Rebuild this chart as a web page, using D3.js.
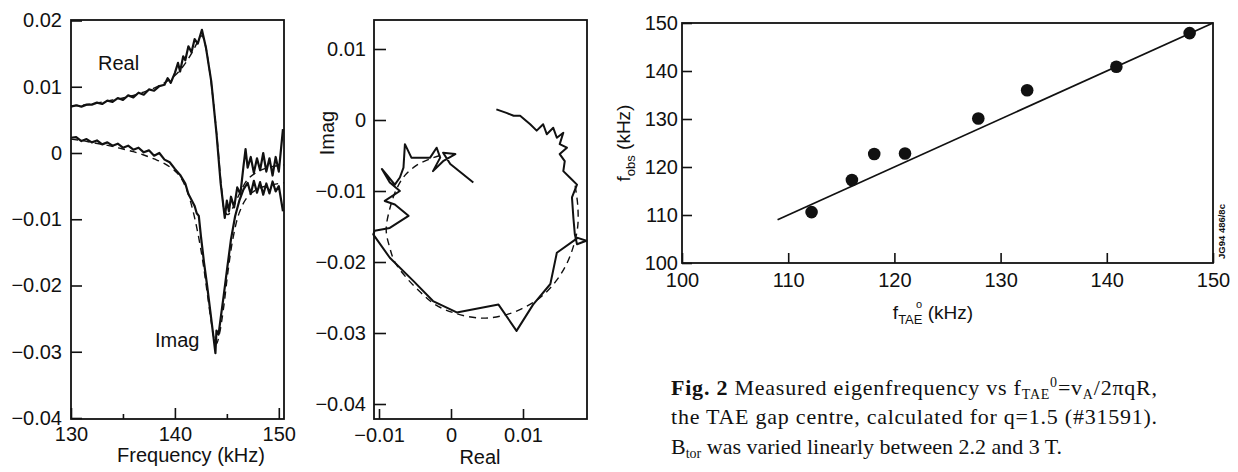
<!DOCTYPE html>
<html>
<head>
<meta charset="utf-8">
<script src="https://cdn.jsdelivr.net/npm/d3@7"></script>
<style>
  body { margin: 0; background: #fff; }
</style>
</head>
<body>
<div id="chart"></div>
<script>
"use strict";

// ---- panel (a): transfer function vs frequency ----
const realFreq = [130.0,130.5,131.0,131.5,132.0,132.5,133.0,133.5,134.0,134.5,135.0,135.5,136.0,136.5,137.0,137.5,138.0,138.5,
    139.0,139.3,139.6,140.0,140.3,140.5,140.8,141.0,141.3,141.6,141.9,142.2,142.6,143.0,143.5,144.0,144.4,144.8,
    145.0,145.2,145.4,145.7,146.0,146.3,146.6,146.8,147.0,147.3,147.6,147.9,148.2,148.5,148.8,149.1,149.4,149.7,150.0,150.4];
const realVal = [0.0070,0.0072,0.0070,0.0073,0.0073,0.0076,0.0074,0.0079,0.0077,0.0083,0.0080,0.0087,0.0084,0.0091,0.0088,0.0096,0.0094,0.0101,
    0.0103,0.0113,0.0106,0.0121,0.0136,0.0123,0.0146,0.0140,0.0161,0.0152,0.0172,0.0165,0.0186,0.0158,0.0108,0.0030,-0.0045,-0.0098,
    -0.0072,-0.0088,-0.0066,-0.0082,-0.0052,-0.0062,-0.0020,0.0006,-0.0022,-0.0006,-0.0030,-0.0008,-0.0026,0.0000,-0.0028,-0.0008,-0.0034,-0.0006,-0.0028,0.0036];

const imagFreq = [130.0,130.5,131.0,131.5,132.0,132.5,133.0,133.5,134.0,134.5,135.0,135.5,136.0,136.5,137.0,137.5,138.0,138.5,139.0,139.5,140.0,140.5,
    141.0,141.3,141.6,141.9,142.1,142.3,142.5,142.8,143.1,143.4,143.7,143.9,144.0,144.2,144.4,144.7,145.0,145.4,145.8,
    146.2,146.6,147.0,147.3,147.6,147.9,148.2,148.5,148.8,149.1,149.4,149.7,150.0,150.4];
const imagVal = [0.0023,0.0024,0.0018,0.0021,0.0016,0.0019,0.0013,0.0016,0.0011,0.0014,0.0008,0.0011,0.0005,0.0008,0.0001,0.0004,-0.0004,0.0000,-0.0010,-0.0014,-0.0024,-0.0033,
    -0.0046,-0.0062,-0.0071,-0.0080,-0.0091,-0.0095,-0.0125,-0.0165,-0.0200,-0.0238,-0.0276,-0.0302,-0.0268,-0.0274,-0.0250,-0.0215,-0.0178,-0.0130,-0.0095,
    -0.0072,-0.0055,-0.0045,-0.0062,-0.0042,-0.0060,-0.0044,-0.0063,-0.0046,-0.0061,-0.0043,-0.0058,-0.0050,-0.0088];

// fitted curves (dashed)
const realFitFreq = [130,131,132,133,134,135,136,137,138,139,140,140.6,141.2,141.8,142.3,142.6,142.9,143.3,143.7,144.1,144.5,144.8,145.1,145.6,146.2,147.0,148.0,149.0,150.0,150.5];
const realFitVal = [0.0071,0.0072,0.0074,0.0077,0.0080,0.0083,0.0087,0.0092,0.0098,0.0106,0.0117,0.0127,0.0140,0.0156,0.0171,0.0177,0.0165,0.0128,0.0078,0.0015,-0.0055,-0.0088,-0.0093,-0.0082,-0.0062,-0.0040,-0.0028,-0.0022,-0.0019,-0.0018];
const imagFitFreq = [130,131,132,133,134,135,136,137,138,139,140,140.6,141.2,141.7,142.2,142.7,143.1,143.5,143.8,144.0,144.3,144.7,145.1,145.6,146.2,147.0,148.0,149.0,150.0,150.5];
const imagFitVal = [0.0021,0.0019,0.0016,0.0013,0.0010,0.0006,0.0002,-0.0003,-0.0009,-0.0016,-0.0027,-0.0038,-0.0058,-0.0085,-0.0120,-0.0165,-0.0210,-0.0255,-0.0282,-0.0288,-0.0272,-0.0232,-0.0180,-0.0128,-0.0090,-0.0066,-0.0054,-0.0049,-0.0046,-0.0045];

const yTicksA = [0.02, 0.01, 0, -0.01, -0.02, -0.03, -0.04];
const xTicksA = [130, 140, 150];
const xMinorA = [135, 145];

// ---- panel (b): complex plane ----
const polarReal = [0.0063,0.0077,0.0087,0.0096,0.0110,0.0119,0.0128,0.0133,0.0142,0.0147,0.0156,0.0151,0.0161,0.0151,0.0158,0.0156,0.0165,0.0175,0.0168,0.0170,
    0.0172,0.0175,0.0188,0.0176,0.0147,0.0138,0.0114,0.0091,0.0066,0.0008,-0.0025,-0.0052,-0.0085,-0.0108,-0.0106,-0.0085,-0.0059,-0.0078,-0.0092,-0.0071,
    -0.0085,-0.0096,-0.0078,-0.0071,-0.0066,-0.0064,-0.0055,-0.0029,-0.0020,-0.0015,-0.0025,-0.0011,0.0006,-0.0011,-0.0001,0.0031];
const polarImag = [0.0015,0.0010,0.0006,0.0006,-0.0006,-0.0015,-0.0006,-0.0020,-0.0011,-0.0025,-0.0018,-0.0034,-0.0039,-0.0048,-0.0058,-0.0072,-0.0081,-0.0091,-0.0109,-0.0138,
    -0.0161,-0.0175,-0.0170,-0.0166,-0.0187,-0.0231,-0.0260,-0.0297,-0.0260,-0.0271,-0.0255,-0.0227,-0.0194,-0.0161,-0.0156,-0.0152,-0.0135,-0.0119,-0.0114,-0.0100,
    -0.0088,-0.0069,-0.0091,-0.0081,-0.0067,-0.0034,-0.0053,-0.0053,-0.0039,-0.0053,-0.0072,-0.0058,-0.0048,-0.0046,-0.0062,-0.0088];
const polarFitReal = [-0.0015,-0.0030,-0.0048,-0.0064,-0.0076,-0.0085,-0.0090,-0.0085,-0.0078,-0.0062,-0.0042,-0.0022,0.0005,0.0040,0.0070,0.0098,0.0124,0.0145,0.0160,0.0170,0.0176,0.0176,0.0172];
const polarFitImag = [-0.0050,-0.0055,-0.0064,-0.0078,-0.0098,-0.0125,-0.0155,-0.0180,-0.0200,-0.0222,-0.0243,-0.0260,-0.0272,-0.0279,-0.0276,-0.0266,-0.0250,-0.0228,-0.0204,-0.0178,-0.0150,-0.0120,-0.0090];

const yTicksB = [0.01, 0, -0.01, -0.02, -0.03, -0.04];
const xTicksB = [-0.01, 0, 0.01];

// ---- panel (c): f_obs vs f_TAE ----
const fTae = [112.2, 116.0, 118.1, 121.0, 127.9, 132.5, 140.9, 147.8];
const fObs = [110.6, 117.3, 122.7, 122.8, 130.1, 136.0, 140.9, 147.9];
const lineTae = [109, 150];
const lineObs = [109, 150];
const ticksC = [100, 110, 120, 130, 140, 150];

// ---- layout ----
const svgWidth = 1238,
    svgHeight = 472;
const FONT = '"Liberation Sans", Arial, Helvetica, sans-serif',
    SERIF = '"Liberation Serif", "Times New Roman", Times, serif',
    INK = "#111";

const svg = d3.select("#chart").append("svg")
    .attr("width", svgWidth)
    .attr("height", svgHeight)
    .style("display", "block");

svg.append("rect").attr("width", svgWidth).attr("height", svgHeight).attr("fill", "#fff");

const fmt = d3.format(".2~f");

// scales
const xA = d3.scaleLinear().domain([130, 150.5]).range([71, 284]);
const yA = d3.scaleLinear().domain([-0.04, 0.02]).range([418, 20.5]);
const xB = d3.scaleLinear().domain([-0.01, 0.01]).range([379, 523]);
const yB = d3.scaleLinear().domain([-0.04, 0.01]).range([404, 49]);
const xC = d3.scaleLinear().domain([100, 150]).range([682, 1213]);
const yC = d3.scaleLinear().domain([100, 150]).range([263, 23]);

function styleAxis(g) {
    g.select(".domain").remove();
    g.attr("font-size", 20).attr("font-family", FONT);
    g.selectAll("line").attr("stroke", INK).attr("stroke-width", 1.6);
    g.selectAll("text").attr("fill", INK);
}

function frame(x0, y0, x1, y1) {
    svg.append("rect")
        .attr("x", x0).attr("y", y0)
        .attr("width", x1 - x0).attr("height", y1 - y0)
        .attr("fill", "none")
        .attr("stroke", INK)
        .attr("stroke-width", 1.8);
}

function pairLine(xs, ys, xScale, yScale) {
    return d3.line()
        .x(i => xScale(xs[i]))
        .y(i => yScale(ys[i]))(d3.range(xs.length));
}

function smoothLine(xs, ys, xScale, yScale) {
    return d3.line()
        .curve(d3.curveCatmullRom.alpha(0.5))
        .x(i => xScale(xs[i]))
        .y(i => yScale(ys[i]))(d3.range(xs.length));
}

function solid(d, w) {
    svg.append("path").attr("d", d)
        .attr("fill", "none").attr("stroke", INK)
        .attr("stroke-width", w).attr("stroke-linejoin", "round");
}

function dashed(d) {
    svg.append("path").attr("d", d)
        .attr("fill", "none").attr("stroke", INK)
        .attr("stroke-width", 1.4).attr("stroke-dasharray", "7,5");
}

// ================= panel (a) =================
frame(71, 20, 284, 419);

svg.append("g").attr("transform", "translate(71,0)")
    .call(d3.axisLeft(yA).tickValues(yTicksA).tickSize(-11).tickPadding(9).tickFormat(fmt))
    .call(styleAxis);

svg.append("g").attr("transform", "translate(0,419)")
    .call(d3.axisBottom(xA).tickValues(xTicksA).tickSize(-11).tickPadding(8).tickFormat(d3.format("d")))
    .call(styleAxis);

svg.append("g").attr("transform", "translate(0,419)")
    .call(d3.axisBottom(xA).tickValues(xMinorA).tickSize(-5).tickFormat(""))
    .call(styleAxis);

dashed(smoothLine(realFitFreq, realFitVal, xA, yA));
dashed(smoothLine(imagFitFreq, imagFitVal, xA, yA));
solid(pairLine(realFreq, realVal, xA, yA), 2.2);
solid(pairLine(imagFreq, imagVal, xA, yA), 2.2);

svg.append("text").text("Real")
    .attr("x", 98).attr("y", 70)
    .attr("font-family", FONT).attr("font-size", 20).attr("fill", INK);
svg.append("text").text("Imag")
    .attr("x", 155).attr("y", 347)
    .attr("font-family", FONT).attr("font-size", 20).attr("fill", INK);
svg.append("text").text("Frequency (kHz)")
    .attr("x", 191).attr("y", 462).attr("text-anchor", "middle")
    .attr("font-family", FONT).attr("font-size", 20).attr("fill", INK);

// ================= panel (b) =================
frame(374, 20, 587, 419);

svg.append("g").attr("transform", "translate(374,0)")
    .call(d3.axisLeft(yB).tickValues(yTicksB).tickSize(-12).tickPadding(8).tickFormat(fmt))
    .call(styleAxis);

svg.append("g").attr("transform", "translate(0,419)")
    .call(d3.axisBottom(xB).tickValues(xTicksB).tickSize(-10).tickPadding(9).tickFormat(fmt))
    .call(styleAxis);

dashed(smoothLine(polarFitReal, polarFitImag, xB, yB));
solid(pairLine(polarReal, polarImag, xB, yB), 2);

svg.append("text").text("Imag")
    .attr("transform", "translate(334,133) rotate(-90)")
    .attr("text-anchor", "middle")
    .attr("font-family", FONT).attr("font-size", 20).attr("fill", INK);
svg.append("text").text("Real")
    .attr("x", 480).attr("y", 464).attr("text-anchor", "middle")
    .attr("font-family", FONT).attr("font-size", 20).attr("fill", INK);

// ================= panel (c) =================
frame(682, 23, 1213, 263);

svg.append("g").attr("transform", "translate(682,0)")
    .call(d3.axisLeft(yC).tickValues(ticksC).tickSize(-10).tickPadding(4).tickFormat(d3.format("d")))
    .call(styleAxis);

svg.append("g").attr("transform", "translate(0,263)")
    .call(d3.axisBottom(xC).tickValues(ticksC).tickSize(-10).tickPadding(10).tickFormat(d3.format("d")))
    .call(styleAxis);

solid(pairLine(lineTae, lineObs, xC, yC), 1.8);

svg.append("g")
    .selectAll("circle")
    .data(d3.range(fTae.length))
    .enter()
    .append("circle")
    .attr("cx", i => xC(fTae[i]))
    .attr("cy", i => yC(fObs[i]))
    .attr("r", 6.3)
    .attr("fill", INK);

// axis titles with sub/superscripts
const yTitle = svg.append("text")
    .attr("transform", "translate(630,143) rotate(-90)")
    .attr("text-anchor", "middle")
    .attr("font-family", FONT).attr("font-size", 19).attr("fill", INK);
yTitle.append("tspan").text("f");
yTitle.append("tspan").text("obs").attr("font-size", 13).attr("dy", 5);
yTitle.append("tspan").text(" (kHz)").attr("dy", -5);

const xTitle = svg.append("text")
    .attr("x", 933).attr("y", 319)
    .attr("text-anchor", "middle")
    .attr("font-family", FONT).attr("font-size", 19).attr("fill", INK);
xTitle.append("tspan").text("f");
xTitle.append("tspan").text("TAE").attr("font-size", 13).attr("dy", 5);
xTitle.append("tspan").text(" (kHz)").attr("dy", -5);
svg.append("text").text("o")
    .attr("x", 916).attr("y", 308)
    .attr("font-family", FONT).attr("font-size", 11).attr("fill", INK);

svg.append("text").text("JG94 486/8c")
    .attr("transform", "translate(1225,259) rotate(-90)")
    .attr("font-family", FONT).attr("font-size", 9.5)
    .attr("font-weight", "bold").attr("fill", INK);

// ================= caption =================
const cap = svg.append("g")
    .attr("font-family", SERIF).attr("font-size", 22).attr("fill", INK);

const line1 = cap.append("text").attr("x", 671).attr("y", 395)
    .attr("textLength", 486).attr("lengthAdjust", "spacing");
line1.append("tspan").text("Fig. 2").attr("font-weight", "bold");
line1.append("tspan").text(" Measured eigenfrequency vs f");
line1.append("tspan").text("TAE").attr("font-size", 14).attr("dy", 4);
line1.append("tspan").text("0").attr("font-size", 14).attr("dy", -12);
line1.append("tspan").text("=v").attr("dy", 8);
line1.append("tspan").text("A").attr("font-size", 14).attr("dy", 4);
line1.append("tspan").text("/2πqR,").attr("dy", -4);

cap.append("text").attr("x", 671).attr("y", 424)
    .attr("textLength", 486).attr("lengthAdjust", "spacing")
    .text("the TAE gap centre, calculated for q=1.5 (#31591).");

const line3 = cap.append("text").attr("x", 671).attr("y", 454);
line3.append("tspan").text("B");
line3.append("tspan").text("tor").attr("font-size", 14).attr("dy", 4);
line3.append("tspan").text(" was varied linearly between 2.2 and 3 T.").attr("dy", -4);
</script>
</body>
</html>
